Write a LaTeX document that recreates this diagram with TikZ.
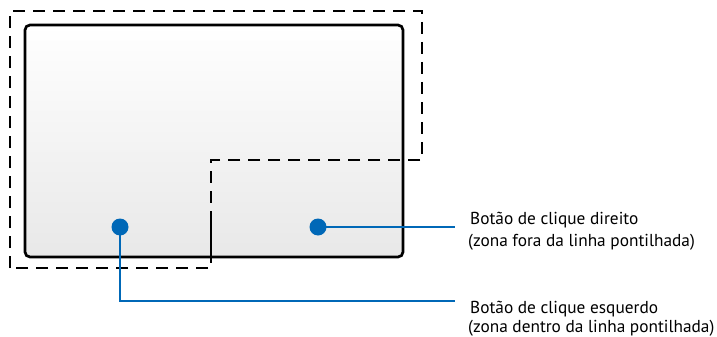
\documentclass[tikz,border=0pt]{standalone}
\usepackage{fontspec}
\setmainfont{PT Sans}
\definecolor{padblue}{RGB}{0,104,183}
\begin{document}
\begin{tikzpicture}[x=1pt,y=-1pt,
  padframe/.style={draw=black,line width=2.7pt,rounded corners=5pt,top color=white,bottom color=black!9},
  zone/.style={line width=1.4pt,dash pattern=on 12pt off 8pt},
  lead/.style={padblue,line width=2.8pt},
  dotmark/.style={circle,fill=padblue,inner sep=0pt,minimum size=17pt},
  lbl/.style={anchor=base west,inner sep=0pt,font=\fontsize{17.3}{20}\selectfont}]
\useasboundingbox (0,0) rectangle (717,337);
\draw[padframe] (25,25) rectangle (403,257);
\draw[line width=1.4pt] (211,220) -- (211,257);
\draw[zone] (10,268) -- (10,11) -- (422,11) -- (422,160) -- (211,160) -- (211,268) -- cycle;
\node[dotmark] (ldot) at (120,227) {};
\node[dotmark] (rdot) at (318,227) {};
\coordinate (rend) at (455,227);
\coordinate (lcorner) at (120,301);
\coordinate (lend) at (455,301);
\draw[lead] (rdot.center) -- (rend);
\draw[lead] (ldot.center) -- (lcorner) -- (lend);
\node[lbl] (r1) at (470,224) {Botão de clique direito};
\node[lbl] (r2) at (468,246) {(zona fora da linha pontilhada)};
\node[lbl] (l1) at (470,313) {Botão de clique esquerdo};
\node[lbl] (l2) at (468,332) {(zona dentro da linha pontilhada)};
\end{tikzpicture}
\end{document}
